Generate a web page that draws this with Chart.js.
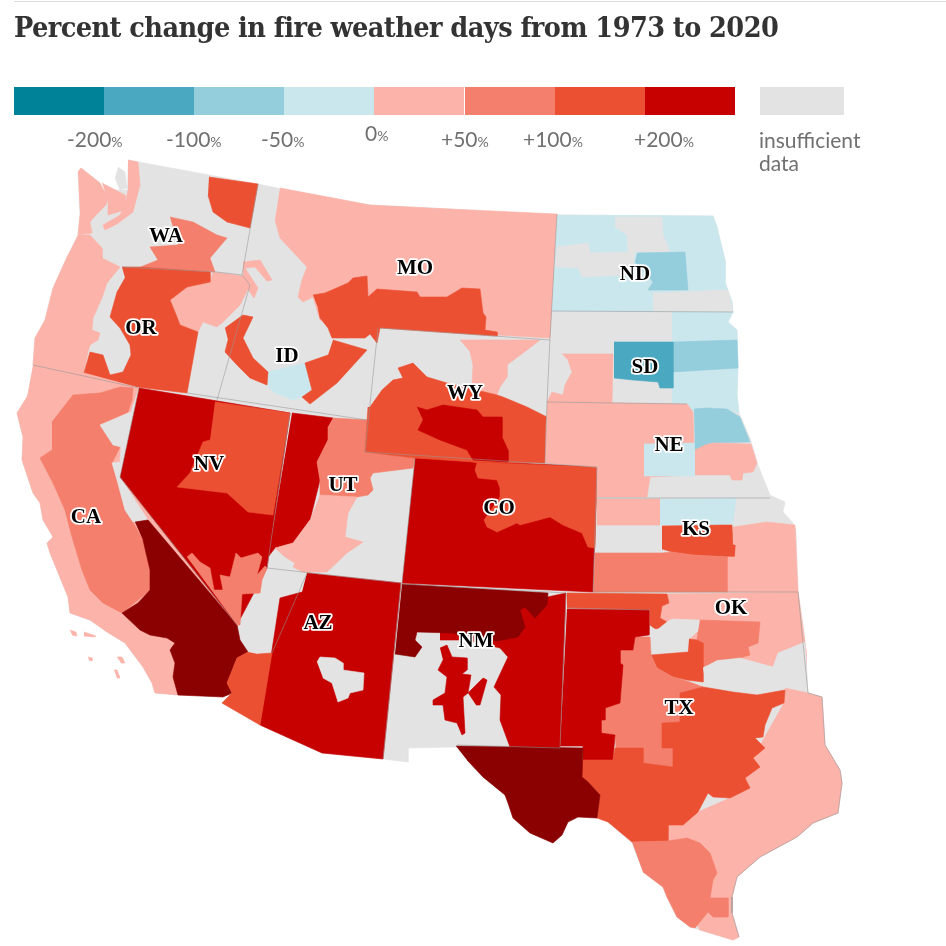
<!DOCTYPE html>
<html>
<head>
<meta charset="utf-8">
<title>Percent change in fire weather days</title>
<script src="https://cdn.jsdelivr.net/npm/chart.js@4"></script>
<style>
  html, body { margin: 0; background: #fff; }
  #page { position: relative; width: 946px; height: 946px; overflow: hidden; }
  #map { position: absolute; left: 0; top: 0; }
  #rule { position: absolute; left: 14px; right: 0; top: 1px; height: 1px; background: #dcdcdc; }
  h1 { position: absolute; left: 14px; top: 10px; margin: 0; white-space: nowrap; color: #333;
       font: bold 28.5px "DejaVu Serif"; font-stretch: condensed; letter-spacing: -0.55px; }
  .swatch { position: absolute; top: 87px; height: 28px; }
  .tick { position: absolute; top: 126px; color: #707070; font: 21px Lato; white-space: nowrap; }
  .tick small { font-size: 14px; }
  #nodata { position: absolute; left: 759px; top: 128px; color: #707070; font: 21px/23px Lato; }
</style>
</head>
<body>
<div id="page">
  <canvas id="map" width="946" height="946"></canvas>
  <div id="rule"></div>
  <h1>Percent change in fire weather days from 1973 to 2020</h1>
  <div id="nodata">insufficient<br>data</div>
</div>
<script>
// Colour bands, low to high, same as the legend
const bandColors = ["#008299", "#4aa9c1", "#94cddb", "#cbe7ee", "#fbb3aa", "#f47f6c", "#ec5033", "#c70000"];
const tickLabels = ["-200", "-100", "-50", "0", "+50", "+100", "+200"];
const tickLeft = [67, 166, 261, 365, 441, 523, 634];
const GREY = "#e3e3e3", TEAL = bandColors[1], MIDBLUE = bandColors[2], ICE = bandColors[3];
const PINK = bandColors[4], SALMON = bandColors[5], ORANGE = bandColors[6], RED = bandColors[7];
const MAROON = "#8b0000"; // beyond the legend, top of scale

// State labels
const stateNames = ["WA", "OR", "CA", "NV", "ID", "MO", "WY", "UT", "CO", "AZ", "NM", "ND", "SD", "NE", "KS", "OK", "TX"];
const stateX = [166, 141, 86, 209, 287, 415, 465, 343, 499, 318, 476, 635, 645, 669, 696, 731, 679];
const stateY = [237, 329, 518, 465, 357, 269, 394, 486, 509, 624, 642, 275, 368, 446, 530, 609, 709];

// Outlines in map units
const land = [128,160, 258,184, 277,188, 370,205, 470,210, 557,215, 713,216, 717,227, 725,260, 725,282, 732,302, 733,312, 728,322, 737,330, 738,368, 737,395, 739,413, 750,438, 758,465, 770,495, 785,502, 783,512, 793,523, 796,530, 798,590, 805,640, 808,693, 822,697, 825,745, 840,770, 842,783, 838,813, 813,823, 797,837, 760,857, 737,877, 732,897, 732,913, 739,937, 733,940, 710,933, 690,927, 677,917, 667,897, 663,887, 643,872, 632,843, 608,822, 597,818, 578,817, 568,822, 562,835, 553,843, 530,833, 513,818, 505,795, 483,777, 467,760, 456,747, 408,748, 408,762, 383,759, 322,753, 260,725, 222,703, 230,695, 178,695, 155,693, 152,683, 143,667, 125,643, 107,632, 90,620, 70,613, 68,597, 50,553, 47,543, 53,537, 43,520, 40,503, 33,493, 22,460, 23,437, 17,413, 27,397, 33,380, 33,365, 35,338, 45,320, 53,288, 68,255, 78,235, 80,215, 78,172, 81,168, 100,183, 102,190, 127,190];

const waCoast = [78,172, 81,168, 100,183, 108,198, 106,205, 96,215, 90,222, 92,233, 78,235, 80,215];
const waSound = [128,160, 138,162, 140,185, 133,212, 117,224, 105,230, 103,225, 120,215, 125,205, 128,190];
const waSound2 = [102,183, 125,195, 125,210, 108,215, 108,200];
const waIslands = [118,167, 125,172, 127,188, 120,190, 115,178];
const waNorth = [209,177, 258,184, 250,228, 227,222, 213,212, 208,195];
const waMiddle = [170,217, 193,222, 217,235, 227,238, 210,258, 215,272, 138,268, 158,260, 150,247, 178,245];
const orCoast = [78,235, 90,235, 102,248, 102,258, 120,267, 107,283, 102,298, 93,318, 92,330, 100,333, 98,340, 90,345, 88,352, 84,373, 33,365, 35,338, 45,320, 53,288, 68,255];
const orEast = [170,300, 187,287, 210,282, 213,272, 243,276, 250,285, 240,305, 223,322, 217,327, 203,322, 198,332, 180,325, 175,312];
const orMain = [122,267, 138,267, 210,272, 210,282, 187,287, 170,300, 175,312, 180,325, 198,332, 187,393, 137,387, 84,373, 90,352, 103,355, 110,375, 123,372, 131,355, 130,345, 120,328, 110,317, 117,292, 125,278];
const idSquiggle = [243,262, 260,260, 272,280, 267,281, 255,267, 245,268, 258,288, 254,298, 243,282];
const idWest = [225,328, 243,315, 253,317, 243,338, 253,358, 268,372, 267,385, 250,378, 237,365, 225,352, 228,340];
const idEast = [333,340, 367,350, 337,383, 310,404, 302,397, 312,390, 305,363, 328,355];
const idIce = [268,372, 305,363, 312,390, 302,397, 293,400, 273,392, 267,385];

const caState = [33,365, 84,373, 139,388, 120,477, 237,625, 230,695, 178,695, 155,693, 152,683, 143,667, 125,643, 107,632, 90,620, 70,613, 68,597, 50,553, 47,543, 53,537, 43,520, 40,503, 33,493, 22,460, 23,437, 17,413, 27,397];
const caMiddle = [52,422, 73,395, 100,393, 120,387, 133,388, 132,400, 128,412, 100,425, 120,447, 112,463, 117,480, 125,510, 133,522, 143,540, 150,570, 150,590, 138,600, 122,613, 103,603, 90,590, 82,570, 72,537, 65,510, 53,483, 40,458, 52,450];
const caGrey = [139,388, 131,412, 100,425, 113,445, 121,447, 120,462, 112,463, 117,480, 125,510, 133,522, 148,520, 120,477];
const caSouth = [135,522, 148,520, 237,625, 240,640, 248,652, 237,658, 227,683, 232,693, 223,697, 178,695, 173,677, 175,663, 170,650, 175,643, 167,638, 150,635, 140,630, 122,613, 138,603, 150,590, 150,570, 143,540];
const caIsle1 = [70,630, 76,632, 77,636, 72,635];
const caIsle2 = [84,632, 96,636, 94,637, 84,636];
const caIsle3 = [117,657, 122,657, 125,663, 121,663];
const caIsle4 = [114,670, 117,670, 120,678, 117,678];
const caIsle5 = [88,657, 92,658, 92,661, 89,660];

const nvState = [139,388, 290,413, 267,568, 237,625, 120,477];
const nvEast = [215,402, 290,413, 273,515, 248,512, 227,493, 177,487, 190,473, 203,442, 210,440];
const nvSouth = [187,557, 192,553, 200,562, 210,568, 214,590, 223,590, 220,575, 230,577, 236,553, 241,558, 258,553, 262,557, 257,575, 265,566, 267,568, 262,580, 260,593, 242,594, 240,625, 237,625];

const utWest = [292,413, 333,418, 328,427, 328,440, 317,462, 320,480, 310,520, 293,543, 275,548, 268,557];
const utNorth = [333,418, 367,420, 365,452, 415,458, 413,468, 373,473, 370,478, 373,490, 368,495, 357,497, 320,497, 320,480, 317,462, 328,440, 328,427];
const utMiddle = [320,495, 357,497, 348,513, 345,537, 363,542, 347,553, 327,572, 303,572, 293,567, 295,563, 285,557, 275,548, 293,543, 310,520];

const azState = [307,573, 401,583, 383,759, 322,753, 260,725, 272,650, 280,598, 302,592];
const azSouthWest = [248,652, 237,658, 227,683, 232,693, 222,703, 260,725, 272,653, 258,654];
const azHole = [317,662, 320,657, 335,658, 343,663, 343,670, 364,673, 363,690, 350,693, 348,698, 338,702, 332,683, 323,678];

const nmEast = [440,620, 566,593, 560,748, 510,747, 500,720, 501,695, 494,687, 508,657, 500,648, 467,640, 440,640];
const nmNorth = [402,584, 548,593, 547,605, 535,618, 525,607, 520,610, 525,627, 518,637, 497,641, 467,638, 453,633, 417,632, 415,640, 422,647, 415,657, 395,654];
const nmIsland = [440,648, 447,645, 452,657, 467,658, 467,670, 462,674, 471,675, 468,693, 463,697, 465,733, 462,735, 457,723, 445,720, 443,705, 433,705, 433,700, 445,693, 447,677, 438,670, 443,660];
const nmLobe = [468,693, 483,678, 487,680, 480,705, 476,705];

const coState = [415,458, 597,467, 593,592, 402,583];
const coNorthEast = [473,462, 597,467, 595,548, 588,547, 582,533, 563,525, 550,517, 520,525, 517,523, 497,532, 487,527, 484,520, 500,497, 500,488, 497,480, 478,478, 475,470, 477,463];

const wyPink = [460,340, 540,340, 527,350, 507,365, 507,377, 500,387, 497,395, 480,395, 472,385, 473,365, 470,352];
const wySouth = [370,407, 382,390, 393,380, 403,378, 398,368, 413,363, 427,377, 447,383, 497,395, 503,397, 527,407, 547,417, 546,420, 545,463, 473,462, 415,458, 365,452, 368,407];
const wyCore = [417,407, 427,410, 443,405, 477,410, 483,417, 502,417, 502,437, 508,450, 508,462, 473,460, 467,450, 440,440, 418,430, 423,420];

const mtState = [280,188, 370,205, 470,210, 557,214, 550,338, 497,335, 380,325, 320,320, 313,297, 303,302, 298,297, 302,280, 307,267, 280,238, 275,220];
const mtSouth = [313,295, 325,293, 348,283, 353,278, 367,276, 368,297, 377,289, 417,292, 420,297, 447,297, 462,288, 480,289, 483,313, 486,317, 485,330, 497,332, 497,336, 380,328, 377,343, 370,334, 365,338, 332,338, 328,328, 320,318, 318,308];

const ndState = [557,215, 713,216, 717,227, 725,260, 725,282, 732,302, 733,312, 552,311];
const ndGrey = [615,217, 662,217, 663,235, 670,252, 635,252, 632,275, 582,277, 578,268, 555,267, 557,247, 588,243, 590,253, 628,252, 627,235, 615,227];
const ndBlue = [637,253, 685,252, 688,290, 648,290, 653,282, 635,262];
const ndGreySouth = [653,293, 728,290, 733,312, 653,311];

const sdEast = [672,312, 733,312, 728,322, 737,330, 738,368, 737,395, 739,413, 727,409, 707,408, 693,412, 687,405, 672,403];
const sdBlue = [673,342, 737,340, 738,368, 673,372];
const sdTeal = [614,342, 673,342, 673,388, 660,388, 658,382, 633,380, 614,378];
const sdPink = [562,354, 613,354, 612,403, 547,402, 552,392, 563,395, 565,385, 572,372, 568,360];

const nePink = [547,402, 687,404, 693,412, 695,475, 650,477, 647,497, 597,497, 597,467, 545,463];
const neIce = [644,444, 695,443, 695,476, 644,476];
const neBlue = [694,409, 707,408, 727,409, 740,417, 750,442, 710,443, 705,448, 695,452];
const neSouthEast = [695,450, 705,445, 713,443, 751,444, 757,463, 753,472, 743,473, 742,480, 732,480, 730,475, 695,475];

const ksPink = [597,499, 660,499, 660,525, 597,525];
const ksIce = [660,499, 736,498, 733,523, 720,525, 660,525];
const ksOrange = [662,526, 722,525, 732,525, 733,544, 736,545, 735,557, 693,555, 672,552, 662,549];
const ksSouth = [595,553, 662,553, 672,552, 693,555, 728,557, 728,592, 593,592];
const ksEast = [733,527, 747,525, 767,522, 795,525, 798,592, 728,592, 728,557, 735,557, 736,545, 733,544];

const okPink = [667,594, 798,592, 806,650, 806,680, 760,680, 720,650, 665,630, 660,618, 662,606, 669,603];
const okPanhandle = [567,593, 667,594, 669,603, 662,606, 660,618, 667,622, 662,628, 655,629, 650,625, 650,610, 567,608];
const okGrey1 = [652,628, 657,630, 667,622, 672,619, 699,620, 699,630, 688,640, 688,651, 653,653];
const okSalmon = [700,620, 760,622, 758,643, 748,647, 750,655, 740,658, 717,660, 708,665, 703,667, 703,643, 697,640, 698,632];
const okOrange = [689,639, 697,640, 703,643, 703,682, 687,680, 673,677, 657,668, 651,655, 688,652];
const okGrey2 = [703,668, 717,661, 740,658, 773,667, 778,653, 805,642, 808,695, 787,687, 757,693, 740,690, 713,690, 705,680];

const txEast = [785,688, 808,693, 822,697, 825,745, 840,770, 842,783, 838,813, 813,823, 797,837, 760,857, 737,877, 732,897, 732,913, 739,937, 733,940, 700,930, 650,840, 668,825, 730,798, 784,703];
const txPanhandle = [567,609, 649,610, 649,635, 635,637, 633,650, 620,650, 620,663, 623,665, 622,678, 620,703, 605,708, 605,720, 601,720, 601,733, 615,735, 613,760, 583,760, 583,746, 560,746];
const txWest = [456,746, 583,748, 582,777, 588,782, 600,795, 597,818, 578,817, 568,822, 562,835, 553,843, 530,833, 513,818, 508,803, 505,795, 483,777, 467,760];
const txMiddle = [635,637, 650,637, 651,655, 657,668, 673,677, 687,681, 703,687, 680,693, 680,722, 662,723, 662,748, 673,748, 673,767, 643,763, 643,748, 616,748, 615,735, 601,733, 601,720, 605,720, 605,708, 620,703, 622,678, 620,663, 620,650, 633,650];
const txCentre = [582,760, 613,760, 615,748, 643,748, 643,763, 673,767, 673,748, 662,748, 662,723, 680,722, 680,693, 703,687, 733,692, 757,695, 785,690, 784,703, 772,708, 765,725, 763,737, 755,738, 765,748, 753,758, 760,767, 745,778, 750,788, 730,798, 713,797, 708,793, 698,812, 683,825, 668,825, 668,841, 632,842, 608,822, 597,818, 600,795, 588,782, 582,778];
const txSouth = [632,842, 668,841, 687,838, 700,843, 710,853, 717,873, 713,880, 710,898, 728,898, 728,917, 713,917, 708,912, 695,928, 690,927, 677,917, 667,897, 663,887, 643,872];

// painted in this order, later ones cover earlier ones
const fills = [
  [GREY, land],
  [PINK, waCoast], [PINK, waSound], [PINK, waSound2], [GREY, waIslands], [ORANGE, waNorth], [SALMON, waMiddle],
  [PINK, orCoast], [PINK, orEast], [ORANGE, orMain], [PINK, idSquiggle], [ICE, idIce], [ORANGE, idWest], [ORANGE, idEast],
  [PINK, caState], [SALMON, caMiddle], [GREY, caGrey], [MAROON, caSouth],
  [PINK, caIsle1], [PINK, caIsle2], [PINK, caIsle3], [PINK, caIsle4], [PINK, caIsle5],
  [RED, nvState], [ORANGE, nvEast], [SALMON, nvSouth],
  [RED, utWest], [SALMON, utNorth], [PINK, utMiddle],
  [RED, azState], [ORANGE, azSouthWest], [GREY, azHole],
  [RED, nmEast], [MAROON, nmNorth], [RED, nmIsland], [RED, nmLobe],
  [RED, coState], [ORANGE, coNorthEast],
  [PINK, mtState], [ORANGE, mtSouth], [PINK, wyPink], [ORANGE, wySouth], [RED, wyCore],
  [ICE, ndState], [GREY, ndGrey], [MIDBLUE, ndBlue], [GREY, ndGreySouth],
  [ICE, sdEast], [MIDBLUE, sdBlue], [TEAL, sdTeal], [PINK, sdPink],
  [PINK, nePink], [ICE, neIce], [MIDBLUE, neBlue], [PINK, neSouthEast],
  [PINK, ksPink], [ICE, ksIce], [ORANGE, ksOrange], [SALMON, ksSouth], [PINK, ksEast],
  [PINK, okPink], [ORANGE, okPanhandle], [GREY, okGrey1], [SALMON, okSalmon], [ORANGE, okOrange], [GREY, okGrey2],
  [PINK, txEast], [SALMON, txMiddle], [RED, txPanhandle], [ORANGE, txCentre], [MAROON, txWest], [SALMON, txSouth],
];

// thin state lines
const stateLines = [
  [242,275, 217,272, 122,267], [258,184, 242,275, 250,285, 217,400], [187,393, 367,420],
  [378,328, 365,452], [33,365, 139,388], [139,388, 120,477, 237,625], [290,413, 267,568],
  [267,568, 401,583], [415,458, 402,583], [272,653, 307,573], [401,583, 383,759],
  [365,452, 597,467], [597,467, 593,592], [402,584, 566,593], [566,593, 560,748], [457,745, 560,748],
  [557,214, 550,338, 547,402, 545,463], [380,328, 550,340], [552,311, 733,312],
  [547,402, 687,404], [597,498, 770,498], [593,592, 798,592], [567,608, 650,610],
  [798,592, 808,693],
];
const coastLine = [808,693, 822,697, 825,745, 840,770, 842,783, 838,813, 813,823, 797,837, 760,857, 737,877, 732,897, 732,913, 739,937];

function toPoints(flat) {
  const pts = [];
  for (let i = 0; i < flat.length; i += 2) pts.push({ x: flat[i], y: flat[i + 1] });
  return pts;
}

const datasets = [];
fills.forEach(([color, outline]) => {
  datasets.push({
    data: toPoints(outline), showLine: true, fill: "shape", tension: 0, pointRadius: 0,
    backgroundColor: color, borderColor: color, borderWidth: 0.6,
  });
});
stateLines.concat([coastLine]).forEach((line) => {
  datasets.push({
    data: toPoints(line), showLine: true, fill: false, tension: 0, pointRadius: 0,
    borderColor: "rgba(150,150,150,0.55)", borderWidth: 1,
  });
});
// chart.js paints low order last, so flip to keep the list order
datasets.forEach((d, i) => { d.order = datasets.length - i; });

// state abbreviations on top of the map, white halo like the original
const stateLabels = {
  id: "stateLabels",
  afterDatasetsDraw(chart) {
    const { ctx, scales } = chart;
    ctx.save();
    ctx.font = 'bold 21px "Liberation Serif"';
    ctx.textAlign = "center";
    ctx.textBaseline = "middle";
    ctx.lineJoin = "round";
    stateNames.forEach((name, i) => {
      const x = scales.x.getPixelForValue(stateX[i]);
      const y = scales.y.getPixelForValue(stateY[i]);
      ctx.strokeStyle = "#fff";
      ctx.lineWidth = 3.5;
      ctx.strokeText(name, x, y);
      ctx.fillStyle = "#000";
      ctx.fillText(name, x, y);
    });
    ctx.restore();
  },
};

new Chart(document.getElementById("map"), {
  type: "scatter",
  data: { datasets },
  plugins: [stateLabels],
  options: {
    responsive: false,
    animation: false,
    events: [],
    layout: { padding: 0 },
    scales: {
      x: { type: "linear", min: 0, max: 946, display: false },
      y: { type: "linear", min: 0, max: 946, reverse: true, display: false },
    },
    plugins: { legend: { display: false }, tooltip: { enabled: false } },
  },
});

// legend bar and its labels
const page = document.getElementById("page");
bandColors.concat([GREY]).forEach((color, i) => {
  const el = document.createElement("div");
  el.className = "swatch";
  el.style.left = (i < 8 ? 14 + i * 90.1 : 760) + "px";
  el.style.width = (i < 8 ? 90.1 : 84) + "px";
  el.style.background = color;
  page.appendChild(el);
});
tickLabels.forEach((label, i) => {
  const el = document.createElement("div");
  el.className = "tick";
  el.style.left = tickLeft[i] + "px";
  if (label === "0") el.style.top = "120px";
  el.innerHTML = label + "<small>%</small>";
  page.appendChild(el);
});
</script>
</body>
</html>
